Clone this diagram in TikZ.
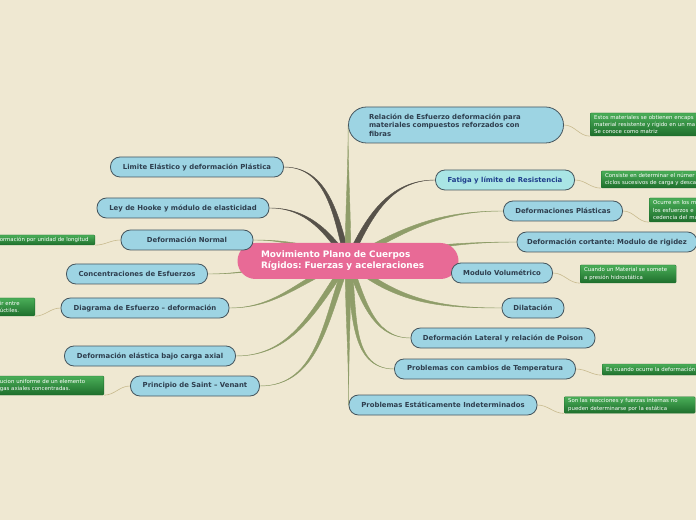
\documentclass[tikz,border=0pt]{standalone}
\usepackage{fontspec}
\setmainfont{DejaVu Sans}
\usetikzlibrary{calc}
\frenchspacing

\definecolor{papel}{HTML}{EFE8D2}
\definecolor{azul}{HTML}{9DD4E3}
\definecolor{azulclaro}{HTML}{A9E5E5}
\definecolor{borde}{HTML}{46565E}
\definecolor{textoazul}{HTML}{2E3E4E}
\definecolor{textofatiga}{HTML}{1F3E8C}
\definecolor{rosa}{HTML}{E86A96}
\definecolor{gris}{HTML}{57524A}
\definecolor{oliva}{HTML}{8F9D69}
\definecolor{verdeA}{HTML}{4AAE58}
\definecolor{verdeB}{HTML}{1E6E2C}
\definecolor{hilo}{HTML}{C8BA8E}

\pgfdeclarelayer{fondo}
\pgfdeclarelayer{ramas}
\pgfsetlayers{fondo,ramas,main}

% rama afilada desde el centro: color, salida, destino, entrada
\newcommand{\rama}[4]{%
  \fill[#1, draw=#1, line width=0.4pt, line join=round]
    ($(ctr)+(#2+90:2.8pt)$) to[out=#2,in=#4] (#3)
    to[out=#4,in=#2] ($(ctr)+(#2-90:2.8pt)$) -- cycle;}

\begin{document}
\begin{tikzpicture}[
    x=1pt, y=1pt,
    centro/.style={rectangle, rounded corners=18pt, fill=rosa, text=white,
                   font=\bfseries\fontsize{8.9}{11}\selectfont, align=left,
                   text width=174pt, minimum width=221pt, minimum height=36pt},
    tema/.style={rectangle, rounded corners=9.5pt, draw=borde, line width=0.8pt,
                 fill=azul, text=textoazul,
                 font=\bfseries\fontsize{6.9}{8.6}\selectfont,
                 minimum height=20pt, inner sep=2pt},
    nota/.style={rectangle, rounded corners=1pt, top color=verdeA,
                 bottom color=verdeB, draw=verdeB, line width=0.3pt,
                 text=white, font=\fontsize{5.4}{7.2}\selectfont,
                 align=left, inner xsep=4pt, inner ysep=2pt},
    enlace/.style={draw=hilo, line width=0.6pt}
]
\useasboundingbox (0,0) rectangle (696,520);
\begin{pgfonlayer}{fondo}
  \fill[papel] (0,0) rectangle (696,520);
\end{pgfonlayer}

% Nodo central
\node[centro] (ctr) at (348,259)
    {Movimiento Plano de Cuerpos\\R\'igidos: Fuerzas y aceleraciones};

% Temas izquierda
\node[tema, minimum width=173pt] (lim)   at (197,353) {Limite El\'astico y deformaci\'on Pl\'astica};
\node[tema, minimum width=172pt] (hooke) at (183,312) {Ley de Hooke y m\'odulo de elasticidad};
\node[tema, minimum width=132pt] (dnorm) at (187,280) {Deformaci\'on Normal};
\node[tema, minimum width=141pt] (conc)  at (137,246) {Concentraciones de Esfuerzos};
\node[tema, minimum width=168pt] (diag)  at (145,212) {Diagrama de Esfuerzo -- deformaci\'on};
\node[tema, minimum width=171pt] (delas) at (150,164) {Deformaci\'on el\'astica bajo carga axial};
\node[tema, minimum width=129pt] (saint) at (195,134) {Principio de Saint -- Venant};

% Temas derecha
\node[tema, minimum width=215pt, minimum height=36pt, rounded corners=18pt,
      align=left, text width=174pt] (rel) at (456,395)
    {Relaci\'on de Esfuerzo deformaci\'on para\\materiales compuestos reforzados con\\fibras};
\node[tema, minimum width=139pt, fill=azulclaro, text=textofatiga] (fat) at (505,340)
    {Fatiga y l\'imite de Resistencia};
\node[tema, minimum width=119pt] (dplas) at (563,309) {Deformaciones Pl\'asticas};
\node[tema, minimum width=180pt] (dcort) at (607,278) {Deformaci\'on cortante: Modulo de rigidez};
\node[tema, minimum width=101pt] (modv)  at (502,247) {Modulo Volum\'etrico};
\node[tema, minimum width=62pt]  (dilat) at (533,212) {Dilataci\'on};
\node[tema, minimum width=184pt] (dlat)  at (503,182) {Deformaci\'on Lateral y relaci\'on de Poison};
\node[tema, minimum width=181pt] (temp)  at (485,151) {Problemas con cambios de Temperatura};
\node[tema, minimum width=188pt] (estat) at (443,115) {Problemas Est\'aticamente Indeterminados};

% Notas
\node[nota, anchor=west, text width=120pt, minimum height=23pt] (relnote) at (590,395.5)
    {Estos materiales se obtienen encaps\\material resistente y r\'igido en un ma\\Se conoce como matriz};
\node[nota, anchor=west, text width=110pt, minimum height=17pt] (fatnote) at (601,340.5)
    {Consiste en determinar el n\'umer\\ciclos sucesivos de carga y desca};
\node[nota, anchor=west, text width=60pt, minimum height=24pt] (dplasnote) at (649,310)
    {Ocurre en los m\\los esfuerzos e\\cedencia del ma};
\node[nota, anchor=east, text width=93pt, minimum height=10pt] (dnormnote) at (95,280)
    {formaci\'on por unidad de longitud};
\node[nota, anchor=west, text width=88pt, minimum height=18pt] (modnote) at (580,246)
    {Cuando un Material se somete\\a presi\'on hidrost\'atica};
\node[nota, anchor=east, text width=31pt, minimum height=18pt] (diagnote) at (35,213)
    {ir entre\\\'uctiles.};
\node[nota, anchor=west, text width=110pt, minimum height=11pt] (tempnote) at (602,150.5)
    {Es cuando ocurre la deformaci\'on};
\node[nota, anchor=west, text width=123pt, minimum height=16pt] (estatnote) at (564,115)
    {Son las reacciones y fuerzas internas no\\pueden determinarse por la est\'atica};
\node[nota, anchor=east, text width=100pt, minimum height=19pt] (saintnote) at (104,134.5)
    {ucion uniforme de un elemento\\gas axiales concentradas.};

% Ramas
\begin{pgfonlayer}{ramas}
  \rama{gris}{105}{lim.east}{0}
  \rama{gris}{125}{hooke.east}{0}
  \rama{oliva}{160}{dnorm.east}{0}
  \rama{oliva}{178}{conc.east}{0}
  \rama{oliva}{200}{diag.east}{0}
  \rama{oliva}{235}{delas.east}{0}
  \rama{oliva}{248}{saint.east}{0}
  \rama{oliva}{90}{rel.west}{270}
  \rama{gris}{65}{fat.west}{180}
  \rama{oliva}{30}{dplas.west}{180}
  \rama{oliva}{10}{dcort.west}{180}
  \rama{oliva}{-10}{modv.west}{180}
  \rama{oliva}{-40}{dilat.west}{180}
  \rama{oliva}{-68}{dlat.west}{180}
  \rama{oliva}{-80}{temp.west}{180}
  \rama{oliva}{-90}{estat.west}{90}

  \draw[enlace] (rel.east)   to[out=0,in=180] (relnote.south west);
  \draw[enlace] (fat.east)   to[out=0,in=180] (fatnote.south west);
  \draw[enlace] (dplas.east) to[out=0,in=180] (dplasnote.south west);
  \draw[enlace] (modv.east)  to[out=0,in=180] (modnote.south west);
  \draw[enlace] (temp.east)  to[out=0,in=180] (tempnote.south west);
  \draw[enlace] (estat.east) to[out=0,in=180] (estatnote.south west);
  \draw[enlace] (dnorm.west) to[out=180,in=0] (dnormnote.south east);
  \draw[enlace] (diag.west)  to[out=180,in=0] (diagnote.south east);
  \draw[enlace] (saint.west) to[out=180,in=0] (saintnote.south east);
\end{pgfonlayer}

\end{tikzpicture}
\end{document}
